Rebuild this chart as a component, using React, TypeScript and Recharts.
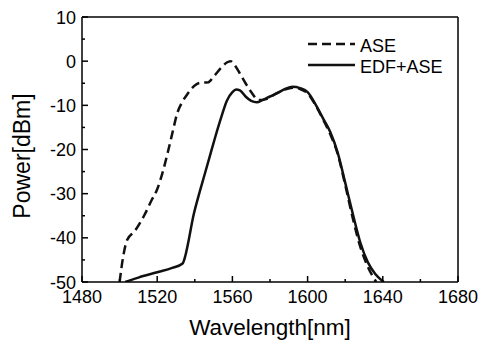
import React from 'react';
import { LineChart, Line, XAxis, YAxis, ReferenceLine, Legend, Label } from 'recharts';

const xTicks = [1480, 1500, 1520, 1540, 1560, 1580, 1600, 1620, 1640, 1660, 1680];
const xMajor = [1480, 1520, 1560, 1600, 1640, 1680];
const yTicks = [10, 5, 0, -5, -10, -15, -20, -25, -30, -35, -40, -45, -50];
const yMajor = [10, 0, -10, -20, -30, -40, -50];

const aseWl = [1500, 1502, 1504, 1508, 1513, 1517, 1520, 1523, 1526, 1528.5, 1530.5, 1533, 1536, 1540, 1543, 1547, 1550, 1554, 1557, 1559, 1561, 1564, 1567, 1570, 1574, 1578, 1583, 1588, 1592, 1596, 1600, 1604, 1608, 1612, 1616, 1620, 1624, 1628, 1632, 1636.5];
const asePow = [-50, -44, -40.5, -38.5, -35, -31.5, -29, -25, -20, -15.5, -12, -9.5, -7.5, -5.5, -4.9, -4.8, -3.5, -1.5, -0.3, 0, -0.8, -2.8, -5, -7, -8.8, -8.6, -7.4, -6.4, -6, -6.3, -7.3, -9.8, -13, -16.5, -21, -28, -35.5, -42, -46.5, -50];

const edfWl = [1503, 1510, 1520, 1528, 1533.5, 1535, 1537, 1539, 1542, 1545, 1548, 1551, 1554, 1557, 1560, 1562, 1564, 1567, 1570, 1573, 1576, 1580, 1584, 1588, 1592, 1596, 1600, 1604, 1608, 1612, 1616, 1620, 1624, 1628, 1632, 1636, 1640.5];
const edfPow = [-50, -49, -47.8, -46.8, -45.8, -44, -40, -35.5, -30.5, -26, -21.5, -17, -12.8, -9, -7, -6.4, -6.6, -8, -9, -9.3, -8.8, -8, -7.2, -6.3, -5.8, -6.1, -7, -9.6, -12.8, -16, -20.7, -27.5, -34.5, -41, -45.5, -48.2, -50];

const aseData = aseWl.map((wl, i) => ({ wl, p: asePow[i] }));
const edfData = edfWl.map((wl, i) => ({ wl, p: edfPow[i] }));

const FONT = '"Liberation Sans", Arial, sans-serif';

const XTick = (props: any) => {
  const { x, y, payload } = props;
  const major = xMajor.includes(payload.value);
  return (
    <g>
      <line x1={x} x2={x} y1={y} y2={y - (major ? 6 : 3)} stroke="#000" strokeWidth={1.5} />
      {major && (
        <text x={x} y={y + 21} textAnchor="middle" fontSize={18} fontFamily={FONT} fill="#000">
          {payload.value}
        </text>
      )}
    </g>
  );
};

const YTick = (props: any) => {
  const { x, y, payload } = props;
  const major = yMajor.includes(payload.value);
  return (
    <g>
      <line x1={x} x2={x + (major ? 6 : 3)} y1={y} y2={y} stroke="#000" strokeWidth={1.5} />
      {major && (
        <text x={x - 6} y={y + 6.5} textAnchor="end" fontSize={18} fontFamily={FONT} fill="#000">
          {payload.value}
        </text>
      )}
    </g>
  );
};

const renderLegend = (props: any) => {
  const items = props.payload || [];
  return (
    <svg width={170} height={50} style={{ display: 'block' }}>
      {items.map((it: any, i: number) => (
        <g key={i}>
          <line
            x1={8}
            x2={55}
            y1={14 + i * 21}
            y2={14 + i * 21}
            stroke="#111"
            strokeWidth={2.5}
            strokeDasharray={i === 0 ? '9 5' : undefined}
          />
          <text x={60} y={22 + i * 21} fontSize={18} fontFamily={FONT} fill="#000">
            {it.value}
          </text>
        </g>
      ))}
    </svg>
  );
};

export default function App() {
  return (
    <div style={{ position: 'absolute', left: 0, top: 0, background: '#fff' }}>
      <LineChart width={483} height={343} margin={{ top: 17, right: 25, bottom: 0, left: 0 }}>
        <XAxis
          dataKey="wl"
          type="number"
          domain={[1480, 1680]}
          ticks={xTicks}
          interval={0}
          tickSize={0}
          tickMargin={0}
          tick={<XTick />}
          tickLine={false}
          axisLine={{ stroke: '#000', strokeWidth: 1.5 }}
          height={61}
          allowDataOverflow
        >
          <Label
            content={(p: any) => {
              const vb = p.viewBox;
              return (
                <text x={vb.x + vb.width / 2} y={335} textAnchor="middle" fontSize={22.5} fontFamily={FONT} fill="#000">
                  Wavelength[nm]
                </text>
              );
            }}
          />
        </XAxis>
        <YAxis
          type="number"
          domain={[-50, 10]}
          ticks={yTicks}
          interval={0}
          tickSize={0}
          tickMargin={0}
          tick={<YTick />}
          tickLine={false}
          axisLine={{ stroke: '#000', strokeWidth: 1.5 }}
          width={82}
          allowDataOverflow
        >
          <Label
            content={() => (
              <text
                x={0}
                y={0}
                transform="translate(30 156) rotate(-90)"
                textAnchor="middle"
                fontSize={23}
                fontFamily={FONT}
                fill="#000"
              >
                Power[dBm]
              </text>
            )}
          />
        </YAxis>
        <ReferenceLine y={10} stroke="#000" strokeWidth={1.5} />
        <ReferenceLine x={1680} stroke="#000" strokeWidth={1.5} />
        <Legend
          content={renderLegend}
          layout="horizontal"
          verticalAlign="middle"
          align="center"
          wrapperStyle={{ position: 'absolute', left: 300, top: 30, width: 170, height: 50 }}
        />
        <Line
          name="ASE"
          data={aseData}
          dataKey="p"
          type="monotone"
          stroke="#111"
          strokeWidth={2.5}
          strokeDasharray="9 5"
          dot={false}
          isAnimationActive={false}
        />
        <Line
          name="EDF+ASE"
          data={edfData}
          dataKey="p"
          type="monotone"
          stroke="#111"
          strokeWidth={2.5}
          dot={false}
          isAnimationActive={false}
        />
      </LineChart>
    </div>
  );
}
